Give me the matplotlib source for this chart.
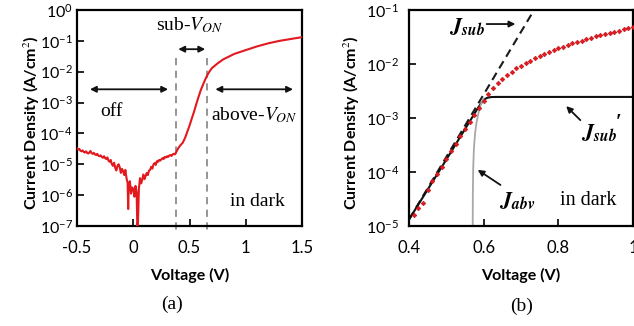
import numpy as np
import matplotlib
matplotlib.use('Agg')
import matplotlib.pyplot as plt
from matplotlib.ticker import NullLocator, FixedLocator

# ---- panel (a): dark J-V curve, log10(J) ----
volt_a = [-0.50, -0.49, -0.48, -0.47, -0.46, -0.45, -0.44, -0.43, -0.42, -0.41,
          -0.40, -0.39, -0.38, -0.37, -0.36, -0.35, -0.34, -0.33, -0.32, -0.31,
          -0.30, -0.29, -0.28, -0.27, -0.26, -0.25, -0.24, -0.23, -0.22, -0.21,
          -0.20, -0.19, -0.18, -0.17, -0.16, -0.15, -0.14, -0.13, -0.12, -0.11,
          -0.10, -0.09, -0.08, -0.07, -0.06, -0.05, -0.045, -0.04, -0.03, -0.02,
          -0.01, 0.00, 0.01, 0.02, 0.03, 0.036, 0.042, 0.05, 0.06, 0.07,
          0.08, 0.09, 0.10, 0.11, 0.12, 0.13, 0.14, 0.15, 0.16, 0.17,
          0.18, 0.19, 0.20, 0.21, 0.22, 0.23, 0.24, 0.25, 0.26, 0.27,
          0.28, 0.29, 0.30, 0.31, 0.32, 0.33, 0.34, 0.35, 0.36, 0.37,
          0.38, 0.40, 0.42, 0.44, 0.46, 0.48, 0.50, 0.52, 0.54, 0.56,
          0.58, 0.60, 0.62, 0.64, 0.66, 0.68, 0.70, 0.75, 0.80, 0.90,
          1.00, 1.10, 1.20, 1.30, 1.40, 1.50]
logj_a = [-4.48, -4.52, -4.50, -4.56, -4.58, -4.55, -4.60, -4.62, -4.58, -4.63,
          -4.65, -4.62, -4.57, -4.64, -4.66, -4.63, -4.68, -4.70, -4.66, -4.72,
          -4.74, -4.71, -4.76, -4.79, -4.74, -4.80, -4.83, -4.78, -4.88, -4.92,
          -4.86, -5.00, -5.05, -4.95, -5.12, -5.20, -5.05, -5.00, -5.10, -5.28,
          -5.15, -5.22, -5.35, -5.18, -5.45, -5.60, -6.45, -5.70, -5.55, -5.95,
          -5.75, -5.80, -6.05, -5.70, -5.90, -7.00, -6.90, -5.80, -5.45, -5.62,
          -5.50, -5.33, -5.48, -5.38, -5.28, -5.35, -5.20, -5.18, -5.08, -5.14,
          -5.00, -4.96, -5.02, -4.90, -4.92, -4.86, -4.88, -4.84, -4.80, -4.83,
          -4.76, -4.78, -4.74, -4.76, -4.72, -4.70, -4.73, -4.68, -4.66, -4.68,
          -4.62, -4.48, -4.38, -4.30, -4.15, -3.95, -3.75, -3.52, -3.30, -3.05,
          -2.82, -2.60, -2.42, -2.25, -2.10, -1.98, -1.88, -1.73, -1.60, -1.42,
          -1.30, -1.18, -1.08, -1.00, -0.94, -0.88]
von_bounds = [0.38, 0.655]

# ---- panel (b): measured data and model curves ----
volt_b = [0.4125, 0.425, 0.4375, 0.45, 0.4625, 0.475, 0.4875, 0.5, 0.5125, 0.525,
          0.5375, 0.55, 0.5625, 0.575, 0.5875, 0.6, 0.6125, 0.625, 0.6375, 0.65,
          0.6625, 0.675, 0.6875, 0.7, 0.7125, 0.725, 0.7375, 0.75, 0.7625, 0.775,
          0.7875, 0.8, 0.8125, 0.825, 0.8375, 0.85, 0.8625, 0.875, 0.8875, 0.9,
          0.9125, 0.925, 0.9375, 0.95, 0.9625, 0.975, 0.9875, 1.0]
logj_b = [-4.80, -4.66, -4.57, -4.33, -4.17, -4.03, -3.90, -3.76, -3.62, -3.48,
          -3.34, -3.21, -3.07, -2.94, -2.81, -2.68, -2.56, -2.45, -2.35, -2.27,
          -2.20, -2.14, -2.08, -2.03, -1.98, -1.94, -1.89, -1.85, -1.81, -1.78,
          -1.74, -1.71, -1.68, -1.65, -1.62, -1.60, -1.57, -1.54, -1.51, -1.48,
          -1.46, -1.44, -1.42, -1.40, -1.38, -1.36, -1.34, -1.32]
jsub_v = [0.40, 0.735]
jsub_log = [-4.88, -1.00]
jsubp_v = [0.40, 0.50, 0.57, 0.585, 0.595, 0.603, 0.61, 0.62, 0.635, 1.00]
jsubp_log = [-4.88, -3.77, -2.98, -2.81, -2.71, -2.65, -2.625, -2.612, -2.61, -2.61]
jabv_v = [0.5705, 0.5710, 0.5720, 0.5740, 0.5770, 0.5810, 0.5860, 0.5920, 0.5990]
jabv_log = [-5.30, -4.40, -3.92, -3.55, -3.28, -3.08, -2.91, -2.76, -2.64]

plt.rcParams['font.family'] = ['Lato', 'DejaVu Sans']
plt.rcParams['mathtext.fontset'] = 'stix'
plt.rcParams['axes.unicode_minus'] = False

red = '#e3191f'
serif = 'Liberation Serif'

fig = plt.figure(figsize=(6.34, 3.26), dpi=100)
ax1 = fig.add_axes([77 / 634, 1 - 226 / 326, 225 / 634, 216 / 326])
ax2 = fig.add_axes([409 / 634, 1 - 226 / 326, 224 / 634, 216 / 326])


def style_axis(ax, decades, ypad):
    ax.set_yscale('log')
    ax.yaxis.set_major_locator(FixedLocator([10.0 ** d for d in decades]))
    ax.yaxis.set_minor_locator(NullLocator())
    for s in ax.spines.values():
        s.set_linewidth(1.6)
    ax.tick_params(axis='both', direction='in', length=5, width=1.2,
                   labelsize=12, top=False, right=False)
    ax.tick_params(axis='y', labelsize=11.5, pad=ypad)
    ax.tick_params(axis='x', pad=10)
    ax.set_xlabel('Voltage (V)', fontsize=11.5, fontweight='bold', labelpad=9)
    ax.set_ylabel('Current Density (A/cm$^2$)', fontsize=11.5, fontweight='bold')


# ---- (a) ----
ax1.plot(volt_a, np.power(10.0, logj_a), color=red, lw=1.5, zorder=3)
for v in von_bounds:
    ax1.plot([v, v], [10 ** -1.55, 10 ** -7.25], color='#8c8c8c', lw=1.3,
             ls=(0, (4, 3)), clip_on=False, zorder=2)
ax1.set_xlim(-0.5, 1.5)
ax1.set_ylim(1e-7, 1)
ax1.set_xticks([-0.5, 0, 0.5, 1, 1.5])
ax1.set_xticklabels(['-0.5', '0', '0.5', '1', '1.5'])
style_axis(ax1, range(-7, 1), 3)
ax1.yaxis.set_label_coords(-0.16, 0.48)

arr = dict(arrowstyle='<|-|>', color='#111111', lw=1.3, mutation_scale=9,
           shrinkA=0, shrinkB=0)
ax1.annotate('', xy=(-0.385, 10 ** -2.57), xytext=(0.31, 10 ** -2.57), arrowprops=arr)
ax1.annotate('', xy=(0.40, 10 ** -1.27), xytext=(0.64, 10 ** -1.27), arrowprops=arr)
ax1.annotate('', xy=(0.73, 10 ** -2.57), xytext=(1.42, 10 ** -2.57), arrowprops=arr)
ax1.text(-0.19, 10 ** -3.3, 'off', family=serif, fontsize=14, ha='center', va='center')
ax1.text(0.5, 10 ** -0.5, r'sub-$V_{ON}$', family=serif, fontsize=14,
         ha='center', va='center')
ax1.text(1.075, 10 ** -3.4, r'above-$V_{ON}$', family=serif, fontsize=14,
         ha='center', va='center')
ax1.text(1.1, 10 ** -6.2, 'in dark', family=serif, fontsize=14, ha='center', va='center')

# ---- (b) ----
ax2.plot(jsub_v, np.power(10.0, jsub_log), color='#1a1a1a', lw=1.5, ls=(0, (4, 2.5)))
ax2.plot(jsubp_v, np.power(10.0, jsubp_log), color='#111111', lw=1.5)
ax2.plot(jabv_v, np.power(10.0, jabv_log), color='#a8a8a8', lw=1.3)
ax2.plot(volt_b, np.power(10.0, logj_b), ls='none', marker='D', ms=2.4,
         color=red, mec='#c0141a', mew=0.4, zorder=4)
ax2.set_xlim(0.4, 1.0)
ax2.set_ylim(1e-5, 1e-1)
ax2.set_xticks([0.4, 0.6, 0.8, 1.0])
ax2.set_xticklabels(['0.4', '0.6', '0.8', '1'])
style_axis(ax2, range(-5, 0), 7)
ax2.yaxis.set_label_coords(-0.215, 0.48)

one = dict(arrowstyle='-|>', color='#111111', lw=1.3, mutation_scale=9,
           shrinkA=0, shrinkB=0)
ax2.annotate('', xy=(0.685, 10 ** -1.26), xytext=(0.608, 10 ** -1.26), arrowprops=one)
ax2.annotate('', xy=(0.821, 10 ** -2.78), xytext=(0.859, 10 ** -3.04), arrowprops=one)
ax2.annotate('', xy=(0.584, 10 ** -3.96), xytext=(0.645, 10 ** -4.24), arrowprops=one)
ax2.text(0.555, 10 ** -1.3, r'$\mathbfit{J}_{\mathbfit{sub}}$', fontsize=16,
         ha='center', va='center')
ax2.text(0.908, 10 ** -3.26, r'$\mathbfit{J}_{\mathbfit{sub}}$', fontsize=16,
         ha='center', va='center')
ax2.text(0.962, 10 ** -3.1, '\u2032', family=serif, fontsize=15, fontweight='bold',
         ha='center', va='center')
ax2.text(0.69, 10 ** -4.52, r'$\mathbfit{J}_{\mathbfit{abv}}$', fontsize=16,
         ha='center', va='center')
ax2.text(0.88, 10 ** -4.52, 'in dark', family=serif, fontsize=14.5,
         ha='center', va='center')

fig.text(172 / 634, 1 - 304 / 326, '(a)', family=serif, fontsize=14, ha='center', va='center')
fig.text(522 / 634, 1 - 306 / 326, '(b)', family=serif, fontsize=14, ha='center', va='center')

fig.savefig('out.png', dpi=100)
